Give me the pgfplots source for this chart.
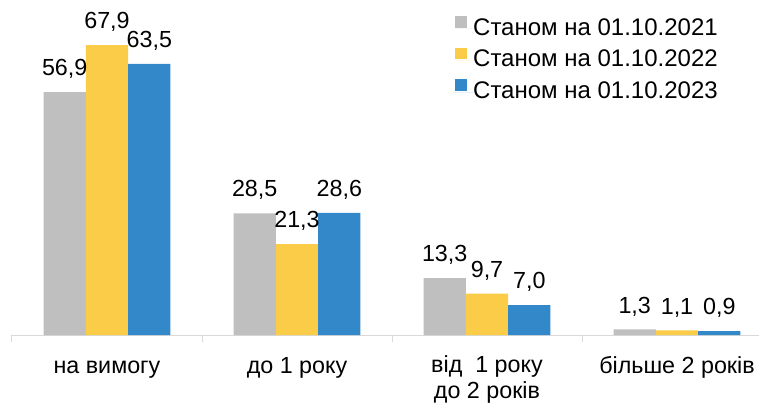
\documentclass[border=0pt]{standalone}
\usepackage{pgfplots}
\pgfplotsset{compat=1.18}
\usepackage{fontspec}
\setmainfont{Liberation Sans}
\definecolor{cgray}{RGB}{191,191,191}
\definecolor{cyellow}{RGB}{250,204,72}
\definecolor{cblue}{RGB}{50,136,200}
\definecolor{caxis}{RGB}{217,217,217}
\newcommand\chartfont{\fontsize{23.3}{26}\selectfont}
\newcommand\legfont{\fontsize{24}{27}\selectfont}
\begin{document}
\begin{tikzpicture}[x=1pt,y=1pt]
\useasboundingbox (0,0) rectangle (759,404);
\begin{axis}[
  at={(12pt,69pt)}, anchor=south west,
  scale only axis, width=747pt, height=335pt,
  xmin=-0.5, xmax=3.4316, ymin=0, ymax=78.45,
  enlargelimits=false, clip=false,
  ybar=0pt, bar width=42.3pt,
  axis x line=bottom, axis y line=none,
  axis line style={-, draw=caxis, line width=1pt},
  xtick={0,1,2,3},
  xticklabels={на вимогу, до 1 року, {від\ \ 1 року\\до 2 років}, більше 2 років},
  major tick length=0pt,
  minor xtick={-0.5,0.5,1.5,2.5},
  minor tick length=7pt,
  tick align=outside,
  minor tick style={draw=caxis, line width=1pt},
  xticklabel style={font=\chartfont, align=center, anchor=north, yshift=-20.3pt, inner sep=0pt,
    execute at begin node={\rule{0pt}{18pt}}},
  ytick=\empty,
  /pgf/number format/.cd, fixed, fixed zerofill, precision=1, use comma, assume math mode=true,
  /pgfplots/.cd,
  nodes near coords,
  every node near coord/.append style={font=\chartfont, anchor=base, yshift=16.3pt, inner sep=0pt, text=black},
  legend style={at={(0.593,0.953)}, anchor=north west, draw=none, fill=none, font=\legfont,
    inner sep=0pt, row sep=8.5pt,
    nodes={inner sep=0pt, text height=17pt, text depth=4pt}},
  legend cell align=left,
  legend image code/.code={\fill[#1] (0pt,1pt) rectangle (12pt,12.7pt); \path (0pt,0pt) -- (18pt,0pt);},
]
\addplot[fill=cgray, draw=none] coordinates {(0,56.9) (1,28.5) (2,13.3) (3,1.3)};
\addplot[fill=cyellow, draw=none] coordinates {(0,67.9) (1,21.3) (2,9.7) (3,1.1)};
\addplot[fill=cblue, draw=none] coordinates {(0,63.5) (1,28.6) (2,7.0) (3,0.9)};
\legend{Станом на 01.10.2021, Станом на 01.10.2022, Станом на 01.10.2023}
\end{axis}
\end{tikzpicture}
\end{document}
